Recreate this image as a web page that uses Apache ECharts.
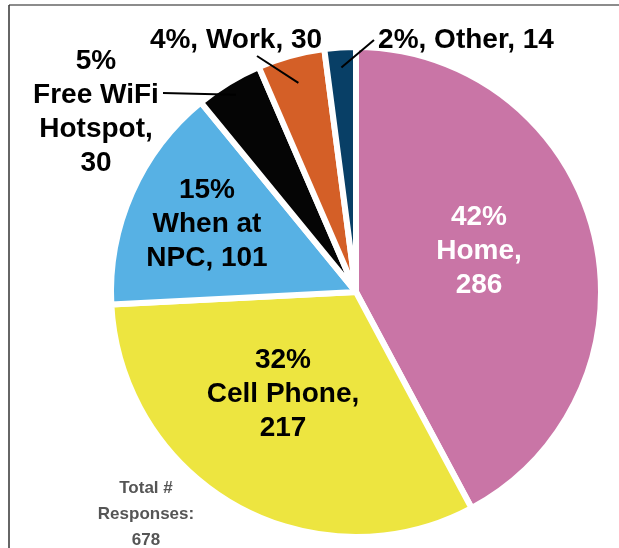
<!DOCTYPE html>
<html>
<head>
<meta charset="utf-8">
<script src="https://cdn.jsdelivr.net/npm/echarts@6/dist/echarts.min.js"></script>
<style>
  html, body { margin: 0; padding: 0; background: #fff; }
  #chart { width: 619px; height: 548px; }
</style>
</head>
<body>
<div id="chart"></div>
<script>
// data
const categories = ['Home', 'Cell Phone', 'When at NPC', 'Free WiFi Hotspot', 'Work', 'Other'];
const responses = [286, 217, 101, 30, 30, 14];
const percents = [42, 32, 15, 5, 4, 2];
const labelTexts = [
    percents[0] + '%\nHome,\n' + responses[0],
    percents[1] + '%\nCell Phone,\n' + responses[1],
    percents[2] + '%\nWhen at\nNPC, ' + responses[2],
    percents[3] + '%\nFree WiFi\nHotspot,\n' + responses[3],
    percents[4] + '%, Work, ' + responses[4],
    percents[5] + '%, Other, ' + responses[5]
];
const colors = ['#c975a6', '#ede540', '#57b1e4', '#050505', '#d45f27', '#083f66'];
const totalResponses = 678;

// where each label sits (center of the text block) and where its leader ends
const labelPos = [[479, 251], [283, 394], [207, 224], [96, 112], [236, 40], [466, 40]];
const leaderEnd = [null, null, null, [163, 93], [257, 56], [374, 40]];
const leaderInset = [0, 0, 0, 14, 28, 20];

const PIE_CENTER = [356, 292];
const PIE_RADIUS = 245;
const FONT = "'Liberation Sans', Arial, sans-serif";

let seriesData = [];
for (let i = 0; i < categories.length; i++) {
    seriesData.push({
        name: categories[i],
        value: responses[i],
        itemStyle: {color: colors[i]},
        label: {color: i === 0 ? '#fff' : '#000'}
    });
}

// frame, total note, and leader lines (start inside the slice at its middle angle, above the pie)
let graphics = [
    {type: 'line', shape: {x1: 9, y1: 5, x2: 619, y2: 5}, style: {stroke: '#666', lineWidth: 1.5}},
    {type: 'line', shape: {x1: 9, y1: 5, x2: 9, y2: 548}, style: {stroke: '#333', lineWidth: 1.5}},
    {
        type: 'text', x: 146, y: 514,
        style: {
            text: 'Total #\nResponses:\n' + totalResponses,
            font: "bold 17px 'Liberation Sans', sans-serif",
            fill: '#555', align: 'center', verticalAlign: 'middle', lineHeight: 26
        }
    }
];
let sum = responses.reduce((a, b) => a + b, 0);
let acc = 0;
for (let i = 0; i < responses.length; i++) {
    let mid = (acc + responses[i] / 2) / sum * Math.PI * 2;
    acc += responses[i];
    if (!leaderEnd[i]) continue;
    let r = PIE_RADIUS - leaderInset[i];
    let sx = PIE_CENTER[0] + Math.sin(mid) * r;
    let sy = PIE_CENTER[1] - Math.cos(mid) * r;
    graphics.push({
        type: 'line', z: 100,
        shape: {x1: sx, y1: sy, x2: leaderEnd[i][0], y2: leaderEnd[i][1]},
        style: {stroke: '#000', lineWidth: 2}
    });
}

const myChart = echarts.init(document.getElementById('chart'));
myChart.setOption({
    animation: false,
    graphic: graphics,
    series: [{
        type: 'pie',
        center: PIE_CENTER,
        radius: PIE_RADIUS,
        startAngle: 90,
        clockwise: true,
        avoidLabelOverlap: false,
        itemStyle: {borderColor: '#fff', borderWidth: 6},
        label: {
            show: true,
            position: 'outside',
            formatter: function (p) { return labelTexts[p.dataIndex]; },
            fontFamily: FONT,
            fontWeight: 'bold',
            fontSize: 28,
            lineHeight: 34,
            align: 'center'
        },
        labelLine: {show: false},
        labelLayout: function (params) {
            let pos = labelPos[params.dataIndex];
            return {x: pos[0], y: pos[1], align: 'center', verticalAlign: 'middle'};
        },
        data: seriesData
    }]
});
</script>
</body>
</html>
